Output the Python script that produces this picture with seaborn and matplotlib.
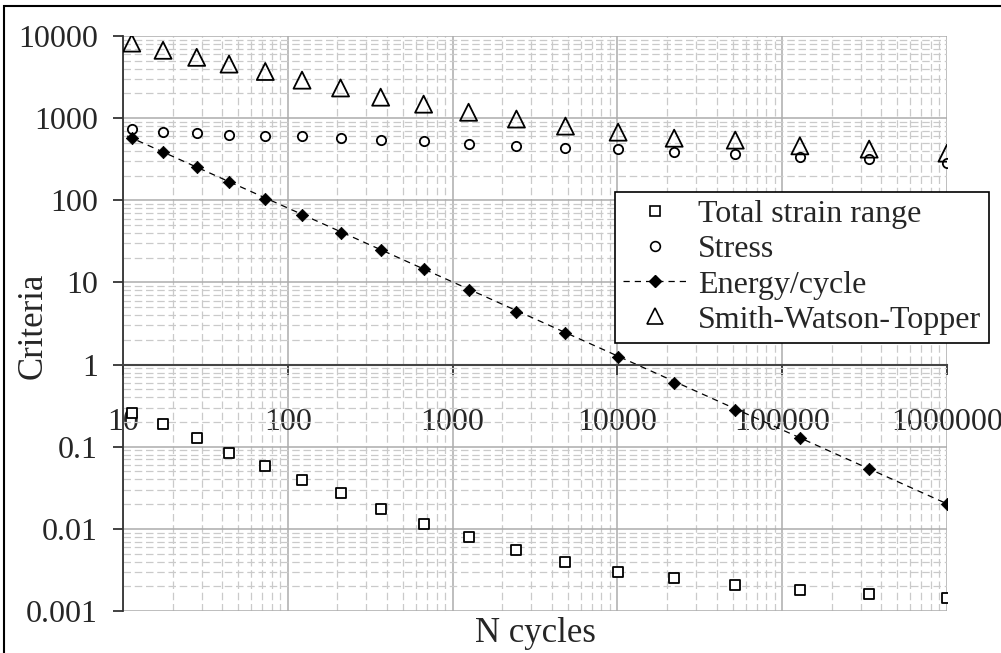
import matplotlib
matplotlib.use("Agg")
import matplotlib.pyplot as plt
import matplotlib.ticker as mticker
from matplotlib.lines import Line2D
from matplotlib.patches import Rectangle
import seaborn as sns
import pandas as pd
import numpy as np

# ---- data ----
n_cycles = [11.3, 17.5, 28, 44, 73, 122, 209, 366, 667, 1250, 2440, 4840,
            10100, 22100, 51900, 128000, 337000, 1000000]
strain_range = [0.26, 0.19, 0.129, 0.085, 0.059, 0.039, 0.027, 0.0175, 0.0114,
                0.0079, 0.0055, 0.0040, 0.0030, 0.0025, 0.0021, 0.0018, 0.0016, 0.00145]
stress = [735, 675, 660, 630, 605, 600, 580, 540, 525, 480, 460, 435, 420, 385,
          365, 335, 315, 285]
energy = [570, 385, 252, 165, 103, 66, 40, 24.5, 14.5, 8.2, 4.4, 2.4, 1.25, 0.60,
          0.28, 0.126, 0.053, 0.020]
swt = [8200, 6700, 5500, 4550, 3700, 2900, 2330, 1800, 1480, 1180, 975, 800, 675,
       570, 540, 460, 420, 375]
energy_trend_x = [10.6, 1150000]
energy_trend_y = [607, 0.0178]

labels = ["Total strain range", "Stress", "Energy/cycle", "Smith-Watson-Topper"]
x_ticks = [10, 100, 1000, 10000, 100000, 1000000]
x_tick_labels = ["10", "100", "1000", "10000", "100000", "1000000"]
y_ticks = [0.001, 0.01, 0.1, 1, 10, 100, 1000, 10000]
y_tick_labels = ["0.001", "0.01", "0.1", "1", "10", "100", "1000", "10000"]

df = pd.DataFrame({"N": n_cycles, "strain": strain_range, "stress": stress,
                   "energy": energy, "swt": swt})
trend = pd.DataFrame({"N": energy_trend_x, "E": energy_trend_y})

sns.set_style("white")
plt.rcParams["font.family"] = ["Liberation Serif", "DejaVu Serif"]
FS = 23
LFS = 25

fig = plt.figure(figsize=(10.01, 6.53), dpi=100)
ax = fig.add_axes([123 / 1001, 1 - 611 / 653, (947 - 123) / 1001, (611 - 36) / 653])
ax.set_xscale("log")
ax.set_yscale("log")
ax.set_xlim(10, 1000000)
ax.set_ylim(0.001, 10000)

# grid
ax.set_axisbelow(True)
ax.grid(which="major", color="#acacac", linewidth=1.1, linestyle="-")
ax.grid(which="minor", color="#cacaca", linewidth=0.9, linestyle=(0, (6, 3)))

# series
sns.lineplot(data=trend, x="N", y="E", ax=ax, color="black", linewidth=0.9,
             linestyle=(0, (5, 4)), legend=False)
sns.scatterplot(data=df, x="N", y="strain", ax=ax, marker="s", s=50,
                facecolor="white", edgecolor="black", linewidth=1.3, legend=False, zorder=3)
sns.scatterplot(data=df, x="N", y="stress", ax=ax, marker="o", s=45,
                facecolor="white", edgecolor="black", linewidth=1.3, legend=False, zorder=3)
sns.scatterplot(data=df, x="N", y="energy", ax=ax, marker="D", s=40,
                color="black", edgecolor="black", linewidth=0.5, legend=False, zorder=4)
sns.scatterplot(data=df, x="N", y="swt", ax=ax, marker="^", s=150,
                facecolor="none", edgecolor="black", linewidth=1.3, legend=False, zorder=3)

# spines
for s in ["top", "right"]:
    ax.spines[s].set_visible(False)
ax.spines["left"].set_color("#333333")
ax.spines["left"].set_linewidth(1.3)
ax.spines["bottom"].set_position(("data", 1))
ax.spines["bottom"].set_color("#444444")
ax.spines["bottom"].set_linewidth(1.5)

# ticks
ax.xaxis.set_major_locator(mticker.FixedLocator(x_ticks))
ax.yaxis.set_major_locator(mticker.FixedLocator(y_ticks))
ax.xaxis.set_major_formatter(mticker.FixedFormatter(x_tick_labels))
ax.yaxis.set_major_formatter(mticker.FixedFormatter(y_tick_labels))
ax.xaxis.set_minor_locator(mticker.LogLocator(base=10, subs=np.arange(2, 10)))
ax.yaxis.set_minor_locator(mticker.LogLocator(base=10, subs=np.arange(2, 10)))
ax.xaxis.set_minor_formatter(mticker.NullFormatter())
ax.yaxis.set_minor_formatter(mticker.NullFormatter())
ax.tick_params(axis="x", which="major", direction="out", length=7, width=1.3,
               color="#333333", labelsize=FS, pad=24, bottom=True)
ax.tick_params(axis="y", which="major", direction="out", length=7, width=1.3,
               color="#333333", labelsize=FS, pad=11, left=True)
ax.tick_params(which="minor", length=0)

ax.set_xlabel("N cycles", fontsize=LFS)
ax.set_ylabel("Criteria", fontsize=LFS, va="center")
ax.xaxis.set_label_coords(0.5, -0.010)
ax.yaxis.set_label_coords(-0.109, 0.496)

# legend
handles = [
    Line2D([], [], linestyle="none", marker="s", markersize=7, markerfacecolor="white",
           markeredgecolor="black", markeredgewidth=1.2),
    Line2D([], [], linestyle="none", marker="o", markersize=7, markerfacecolor="white",
           markeredgecolor="black", markeredgewidth=1.2),
    Line2D([], [], linestyle=(0, (5, 4)), color="black", linewidth=0.9, marker="D",
           markersize=6, markerfacecolor="black", markeredgecolor="black"),
    Line2D([], [], linestyle="none", marker="^", markersize=12, markerfacecolor="none",
           markeredgecolor="black", markeredgewidth=1.2),
]
leg = ax.legend(handles, labels, loc="upper left",
                bbox_to_anchor=(615 / 1001, 1 - 192 / 653), bbox_transform=fig.transFigure,
                fontsize=FS, frameon=True, fancybox=False, framealpha=1,
                edgecolor="black", handlelength=2.0, handletextpad=0.35,
                labelspacing=0.18, borderpad=0.25, borderaxespad=0)
leg.get_frame().set_linewidth(1.2)
leg.set_zorder(10)

# outer chart frame
fig.patches.append(Rectangle((4 / 1001, -0.1), 1.2, 1 - 6 / 653 + 0.1,
                             transform=fig.transFigure, fill=False,
                             edgecolor="black", linewidth=1.5))

fig.savefig("out.png", dpi=100)
